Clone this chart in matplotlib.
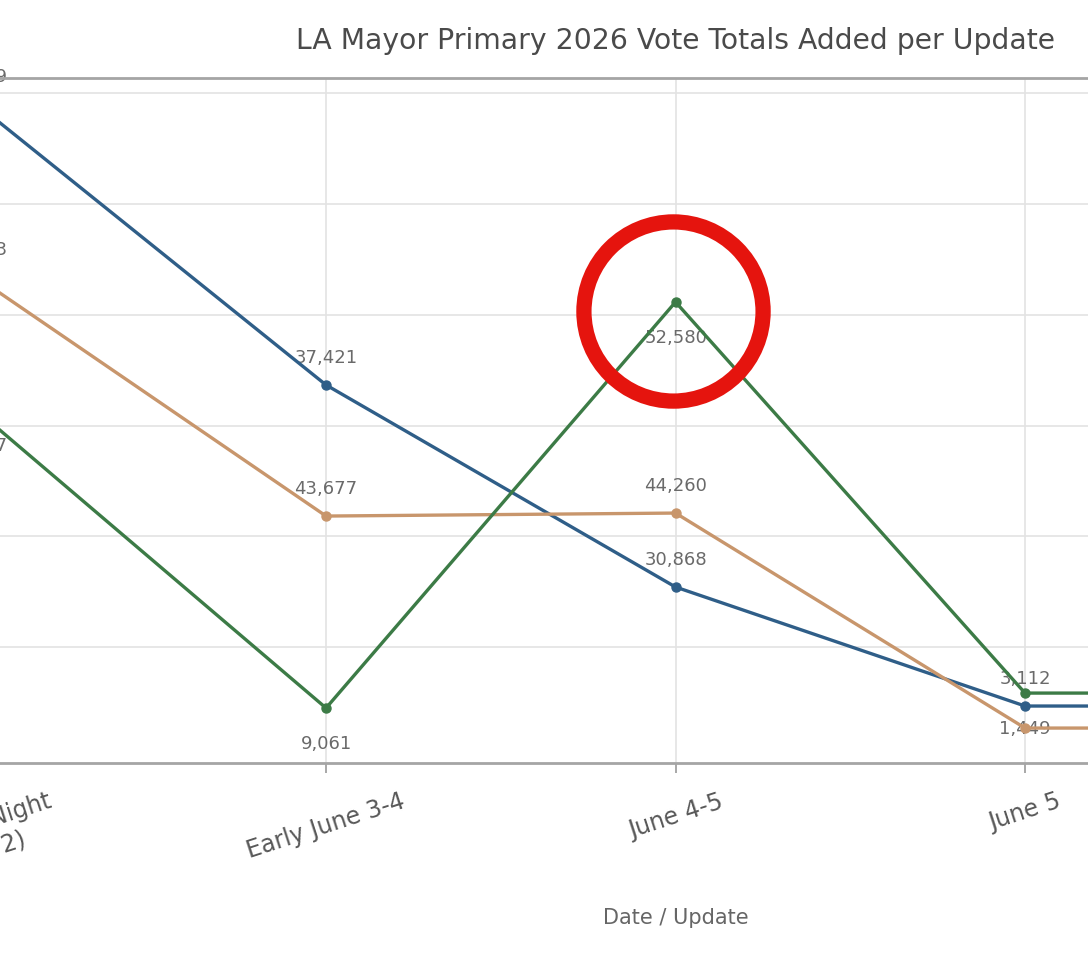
import matplotlib
matplotlib.use('Agg')
import matplotlib.pyplot as plt
from matplotlib.transforms import offset_copy

# categories (last one sits past the right edge of the crop)
updates = ['Election Night\n(June 2)', 'Early June 3-4', 'June 4-5', 'June 5', 'June 8']

blue_vals = [59050, 33670, 15420, 4670, 4670]
orange_vals = [43420, 21830, 22100, 2680, 2680]
green_vals = [31390, 4490, 41165, 5840, 5840]

# printed data labels (as shown on the chart; orange June 5 label is buried under the lines)
blue_lbls = ['68,329', '37,421', '30,868', '3,112', '3,112']
orange_lbls = ['57,413', '43,677', '44,260', '', '1,035']
green_lbls = ['21,337', '9,061', '52,580', '1,449', '1,449']

plt.rcParams['font.family'] = ['DejaVu Sans']

fig = plt.figure(figsize=(10.88, 9.58), dpi=100)
# axes is wider than the figure: the reference is a crop of a bigger chart
ax = fig.add_axes([-0.0858, 0.2035, 1.4134, 0.7151])

x = list(range(len(updates)))
series = [
    (blue_vals, blue_lbls, '#2f5e88', 1),
    (orange_vals, orange_lbls, '#c8966c', 1),
    (green_vals, green_lbls, '#3c7b46', -1),
]

for vals, lbls, col, side in series:
    ax.plot(x, vals, color=col, lw=2.4, marker='o', ms=6.5, zorder=3)
    for xi, v, t in zip(x, vals, lbls):
        ax.annotate(t, (xi, v), xytext=(0, 19.5 if side > 0 else -26),
                    textcoords='offset points', ha='center', va='center',
                    fontsize=13, color='#6a6a6a', zorder=2)

# red highlight ring around the peak
ring = offset_copy(ax.transData, fig=fig, x=-3, y=-9, units='dots')
ax.plot(x[2], green_vals[2], marker='o', ms=129, mfc='none', mec='#e5140e',
        mew=11, transform=ring, zorder=5)

ax.set_xlim(-0.2, 4.2)
ax.set_ylim(-480, 61400)
ax.set_yticks([10000, 20000, 30000, 40000, 50000, 60000])
ax.tick_params(axis='y', left=False, labelleft=False)
ax.set_xticks(x)
ax.set_xticklabels(updates, rotation=18, ha='center', fontsize=17, color='#585858')
ax.tick_params(axis='x', length=7, width=1.2, color='#999999', pad=12)

ax.grid(True, color='#e3e3e3', lw=1.2, zorder=0)
ax.set_axisbelow(True)
for s in ['left', 'right']:
    ax.spines[s].set_visible(False)
for s in ['top', 'bottom']:
    ax.spines[s].set_color('#a5a5a5')
    ax.spines[s].set_linewidth(2)

ax.set_title('LA Mayor Primary 2026 Vote Totals Added per Update',
             fontsize=20.3, color='#4a4a4a', pad=21)
ax.set_xlabel('Date / Update', fontsize=15, color='#666666')
ax.xaxis.set_label_coords(0.5, -0.2263)
ax.xaxis.label.set_va('center')

fig.savefig('out.png', dpi=100)
